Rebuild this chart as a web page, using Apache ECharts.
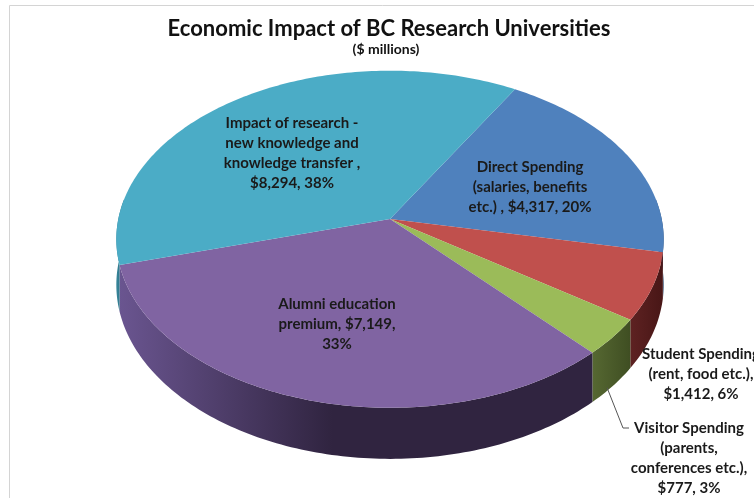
<!DOCTYPE html>
<html>
<head>
<meta charset="utf-8">
<script src="https://cdn.jsdelivr.net/npm/echarts@6/dist/echarts.min.js"></script>
<style>html,body{margin:0;padding:0;background:#fff;}#c{width:754px;height:498px;}</style>
</head>
<body>
<div id="c"></div>
<script>
// ---- data ----
const categories = [
  'Direct Spending\n(salaries, benefits\netc.) ',
  'Student Spending\n(rent, food etc.)',
  'Visitor Spending\n(parents,\nconferences etc.)',
  'Alumni education\npremium',
  'Impact of research -\nnew knowledge and\nknowledge transfer '
];
const values = [4317, 1412, 777, 7149, 8294];
const percents = [20, 6, 3, 33, 38];

// ---- layout / style ----
const breakAfterName = [' ', '\n', '\n', ' ', '\n'];
const breakAfterValue = [' ', ' ', ' ', '\n', ' '];
const labelPos = [[530, 187], [701, 374], [689, 458], [337, 324], [292, 153]];
const topColors = ['#4F81BD', '#C0504D', '#9BBB59', '#8064A2', '#4BACC6'];
const wallColors = [
  ['#3a5f8c', '#2c4a6e'],
  ['#5e2222', '#481616'],
  ['#566832', '#3f4e22'],
  ['#6a5590', '#302440'],
  ['#37869b', '#2a6a7a']
];
const P = { cx: 390, cy: 219, A: 271.7, B: 166.1, p: 0.12, D: 45, start: 30.5 };
const RAD = Math.PI / 180;

function proj(a, depth) {
  const u = Math.sin(a * RAD), v = -Math.cos(a * RAD);
  const s = 1 / (1 - P.p * v);
  return [P.cx + P.A * u * s, P.cy + P.B * v * s + depth * P.D * s];
}
const total = values.reduce((s, v) => s + v, 0);
const angles = [];
let acc = P.start;
values.forEach(v => { const a0 = acc; acc += v / total * 360; angles.push([a0, acc]); });
const silA = 180 - Math.acos(-P.p) / RAD;
const silB = 360 - silA;
function fmt(n) { return n.toString().replace(/\B(?=(\d{3})+(?!\d))/g, ','); }

function renderItem(params, api) {
  const i = params.dataIndex;
  const [a0, a1] = angles[i];
  const children = [];
  const b0 = Math.max(a0, silA), b1 = Math.min(a1, silB);
  if (b1 > b0) {
    const pts = [];
    const n = Math.max(2, Math.ceil((b1 - b0)));
    for (let k = 0; k <= n; k++) pts.push(proj(b0 + (b1 - b0) * k / n, 0));
    for (let k = n; k >= 0; k--) pts.push(proj(b0 + (b1 - b0) * k / n, 1));
    children.push({
      type: 'polygon', shape: { points: pts },
      style: {
        fill: new echarts.graphic.LinearGradient(0, 0, 1, 0, [
          { offset: 0, color: wallColors[i][0] },
          { offset: i === 3 ? 0.45 : 1, color: wallColors[i][1] },
          { offset: 1, color: wallColors[i][1] }
        ])
      }
    });
  }
  const top = [[P.cx, P.cy]];
  const m = Math.max(2, Math.ceil(a1 - a0));
  for (let k = 0; k <= m; k++) top.push(proj(a0 + (a1 - a0) * k / m, 0));
  children.push({ type: 'polygon', shape: { points: top }, style: { fill: topColors[i] } });
  const txt = categories[i] + ',' + breakAfterName[i] + '$' + fmt(api.value(0)) + ',' + breakAfterValue[i] + percents[i] + '%';
  children.push({
    type: 'text', z2: 10,
    style: {
      text: txt, x: labelPos[i][0], y: labelPos[i][1],
      align: 'center', verticalAlign: 'middle',
      fontFamily: 'Lato', fontWeight: 'bold', fontSize: 15, lineHeight: 20,
      fill: '#1a1a1a'
    }
  });
  if (i === 2) {
    const mid = (a0 + a1) / 2;
    const s = proj(mid, 1);
    const lx = labelPos[i][0] - 62, ly = labelPos[i][1] - 30;
    children.push({
      type: 'polyline', shape: { points: [[s[0] - 6, s[1] + 2], [lx - 4, ly], [lx + 2, ly]] },
      style: { stroke: '#555', lineWidth: 1, fill: null }
    });
  }
  return { type: 'group', children };
}

const chart = echarts.init(document.getElementById('c'));
chart.setOption({
  animation: false,
  backgroundColor: '#fff',
  title: [
    { text: 'Economic Impact of BC Research Universities', left: 384, top: 13, textAlign: 'center',
      textStyle: { fontFamily: 'Lato', fontWeight: 'bold', fontSize: 22, color: '#111' } },
    { text: '($ millions)', left: 381, top: 37, textAlign: 'center',
      textStyle: { fontFamily: 'Lato', fontWeight: 'bold', fontSize: 14, color: '#111' } }
  ],
  graphic: [{ type: 'rect', shape: { x: 9.5, y: 5.5, width: 800, height: 600 }, style: { fill: null, stroke: '#d4d4d4', lineWidth: 1 }, z: -1 }],
  series: [{
    type: 'custom', coordinateSystem: 'none',
    renderItem: renderItem,
    data: values.map((v, i) => ({ name: categories[i], value: [v] }))
  }]
});
</script>
</body>
</html>
